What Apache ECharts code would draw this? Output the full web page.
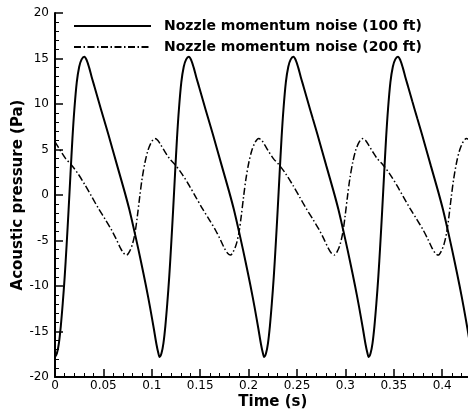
<!DOCTYPE html>
<html>
<head>
<meta charset="utf-8">
<script src="https://cdn.jsdelivr.net/npm/echarts@6/dist/echarts.min.js"></script>
<style>
  html, body { margin: 0; padding: 0; background: #fff; }
  #chart { width: 468px; height: 412px; }
</style>
</head>
<body>
<div id="chart"></div>
<script>
// time (s), acoustic pressure (Pa)
const noise100ft = [
  [0, -17.8], [0.002, -17.4], [0.004, -16.3], [0.006, -14.4], [0.008, -11.9], [0.010, -9.0],
  [0.012, -5.5], [0.014, -1.7], [0.016, 2.3], [0.018, 6.2], [0.020, 9.4], [0.0225, 12.4],
  [0.025, 14.1], [0.0275, 14.9], [0.0303, 15.2],
  [0.0328, 14.8], [0.0353, 14.0], [0.0378, 13.0], [0.0408, 11.9], [0.0451, 10.3], [0.0503, 8.4],
  [0.0553, 6.6], [0.0643, 3.2], [0.0718, 0.4], [0.0768, -1.6], [0.0833, -4.6], [0.0888, -7.3],
  [0.094, -10.0], [0.0983, -12.4], [0.1021, -14.7], [0.1048, -16.4], [0.1068, -17.4], [0.108, -17.8],
  [0.110, -17.4], [0.112, -16.3], [0.114, -14.4], [0.116, -11.9], [0.118, -9.0], [0.120, -5.5],
  [0.122, -1.7], [0.124, 2.3], [0.126, 6.2], [0.128, 9.4], [0.1305, 12.4], [0.133, 14.1],
  [0.1355, 14.9], [0.1383, 15.2],
  [0.1408, 14.8], [0.1433, 14.0], [0.1458, 13.0], [0.1488, 11.9], [0.1531, 10.3], [0.1583, 8.4],
  [0.1633, 6.6], [0.1723, 3.2], [0.1798, 0.4], [0.1848, -1.6], [0.1913, -4.6], [0.1968, -7.3],
  [0.202, -10.0], [0.2063, -12.4], [0.2101, -14.7], [0.2128, -16.4], [0.2148, -17.4], [0.216, -17.8],
  [0.218, -17.4], [0.220, -16.3], [0.222, -14.4], [0.224, -11.9], [0.226, -9.0], [0.228, -5.5],
  [0.230, -1.7], [0.232, 2.3], [0.234, 6.2], [0.236, 9.4], [0.2385, 12.4], [0.241, 14.1],
  [0.2435, 14.9], [0.2463, 15.2],
  [0.2488, 14.8], [0.2513, 14.0], [0.2538, 13.0], [0.2568, 11.9], [0.2611, 10.3], [0.2663, 8.4],
  [0.2713, 6.6], [0.2803, 3.2], [0.2878, 0.4], [0.2928, -1.6], [0.2993, -4.6], [0.3048, -7.3],
  [0.31, -10.0], [0.3143, -12.4], [0.3181, -14.7], [0.3208, -16.4], [0.3228, -17.4], [0.324, -17.8],
  [0.326, -17.4], [0.328, -16.3], [0.330, -14.4], [0.332, -11.9], [0.334, -9.0], [0.336, -5.5],
  [0.338, -1.7], [0.340, 2.3], [0.342, 6.2], [0.344, 9.4], [0.3465, 12.4], [0.349, 14.1],
  [0.3515, 14.9], [0.3543, 15.2],
  [0.3568, 14.8], [0.3593, 14.0], [0.3618, 13.0], [0.3648, 11.9], [0.3691, 10.3], [0.3743, 8.4],
  [0.3793, 6.6], [0.3883, 3.2], [0.3958, 0.4], [0.4008, -1.6], [0.4073, -4.6], [0.4128, -7.3],
  [0.418, -10.0], [0.4223, -12.4], [0.4261, -14.7], [0.4288, -16.4], [0.4308, -17.4], [0.432, -17.8],
  [0.434, -17.4]
]

const noise200ft = [
  [0, 5.85], [0.006, 4.8], [0.011, 4.0], [0.017, 3.3], [0.024, 2.3], [0.031, 1.1], [0.038, -0.2],
  [0.045, -1.5], [0.052, -2.7], [0.0587, -3.9], [0.0635, -4.9], [0.0675, -5.8], [0.071, -6.4], [0.074, -6.6],
  [0.077, -6.2], [0.080, -5.4], [0.0826, -4.2], [0.085, -2.4], [0.0875, -0.2], [0.090, 1.8],
  [0.093, 3.6], [0.096, 4.9], [0.099, 5.7], [0.1015, 6.1], [0.1033, 6.2],
  [0.1063, 6.0], [0.1093, 5.5], [0.1133, 4.8], [0.1183, 4.0], [0.1243, 3.3], [0.1313, 2.3],
  [0.1383, 1.1], [0.1453, -0.2], [0.1523, -1.5], [0.1593, -2.7], [0.166, -3.9], [0.1708, -4.9],
  [0.1748, -5.8], [0.1783, -6.4], [0.1813, -6.6],
  [0.1843, -6.2], [0.1873, -5.4], [0.1899, -4.2], [0.1923, -2.4], [0.1948, -0.2], [0.1973, 1.8],
  [0.2003, 3.6], [0.2033, 4.9], [0.2063, 5.7], [0.2088, 6.1], [0.2106, 6.2],
  [0.2136, 6.0], [0.2166, 5.5], [0.2206, 4.8], [0.2256, 4.0], [0.2316, 3.3], [0.2386, 2.3],
  [0.2456, 1.1], [0.2526, -0.2], [0.2596, -1.5], [0.2666, -2.7], [0.2733, -3.9], [0.2781, -4.9],
  [0.2821, -5.8], [0.2856, -6.4], [0.2886, -6.6],
  [0.2916, -6.2], [0.2946, -5.4], [0.2972, -4.2], [0.2996, -2.4], [0.3021, -0.2], [0.3046, 1.8],
  [0.3076, 3.6], [0.3106, 4.9], [0.3136, 5.7], [0.3161, 6.1], [0.3179, 6.2],
  [0.3209, 6.0], [0.3239, 5.5], [0.3279, 4.8], [0.3329, 4.0], [0.3389, 3.3], [0.3459, 2.3],
  [0.3529, 1.1], [0.3599, -0.2], [0.3669, -1.5], [0.3739, -2.7], [0.3806, -3.9], [0.3854, -4.9],
  [0.3894, -5.8], [0.3929, -6.4], [0.3959, -6.6],
  [0.3989, -6.2], [0.4019, -5.4], [0.4045, -4.2], [0.4069, -2.4], [0.4094, -0.2], [0.4119, 1.8],
  [0.4149, 3.6], [0.4179, 4.9], [0.4209, 5.7], [0.4234, 6.1], [0.4252, 6.2],
  [0.4282, 6.0], [0.4312, 5.5]
]

const seriesNames = ['Nozzle momentum noise (100 ft)', 'Nozzle momentum noise (200 ft)']
const xTicks = [0, 0.05, 0.1, 0.15, 0.2, 0.25, 0.3, 0.35, 0.4]
const yTicks = [-20, -15, -10, -5, 0, 5, 10, 15, 20]

const FONT = 'DejaVu Sans'
const myChart = echarts.init(document.getElementById('chart'))

const axisCommon = {
  axisLine: { onZero: false, lineStyle: { color: '#000', width: 2 } },
  axisTick: { inside: true, length: 8, lineStyle: { color: '#000', width: 1.5 } },
  minorTick: { show: true, splitNumber: 5, length: 4, lineStyle: { color: '#000', width: 1 } },
  splitLine: { show: false },
  nameLocation: 'middle',
  nameMoveOverlap: false,
  nameTextStyle: { fontFamily: FONT, fontWeight: 'bold', fontSize: 15, color: '#000' },
}

myChart.setOption({
  animation: false,
  backgroundColor: '#fff',
  grid: {
    left: 55,
    right: -22.6,
    top: 13,
    bottom: 35,
    outerBoundsMode: 'none',
  },
  legend: {
    data: seriesNames,
    orient: 'vertical',
    left: 73,
    top: 19,
    padding: 0,
    itemWidth: 77,
    itemHeight: 14,
    itemGap: 7,
    itemStyle: { opacity: 0 },
    textStyle: {
      fontFamily: FONT,
      fontWeight: 'bold',
      fontSize: 14,
      color: '#000',
      padding: [0, 0, 0, 8],
    },
  },
  xAxis: {
    ...axisCommon,
    type: 'value',
    name: 'Time (s)',
    nameGap: 18,
    min: 0,
    max: 0.45,
    interval: 0.05,
    axisLabel: {
      fontFamily: FONT,
      fontSize: 12,
      color: '#000',
      margin: 3,
      showMaxLabel: false,
      formatter: v => (xTicks.some(t => Math.abs(t - v) < 1e-9) ? String(v) : ''),
    },
  },
  yAxis: {
    ...axisCommon,
    type: 'value',
    name: 'Acoustic pressure (Pa)',
    nameGap: 29,
    min: -20,
    max: 20,
    interval: 5,
    axisLabel: {
      fontFamily: FONT,
      fontSize: 12,
      color: '#000',
      margin: 6,
      formatter: v => (yTicks.includes(v) ? String(v) : ''),
    },
  },
  series: [
    {
      name: seriesNames[0],
      type: 'line',
      data: noise100ft,
      smooth: 0.3,
      showSymbol: false,
      symbol: 'none',
      lineStyle: { color: '#000', width: 2 },
      itemStyle: { color: '#000' },
    },
    {
      name: seriesNames[1],
      type: 'line',
      data: noise200ft,
      smooth: 0.3,
      showSymbol: false,
      symbol: 'none',
      lineStyle: { color: '#000', width: 1.5, type: [7, 2.5, 1.5, 2.5] },
      itemStyle: { color: '#000' },
    },
  ],
})
</script>
</body>
</html>
